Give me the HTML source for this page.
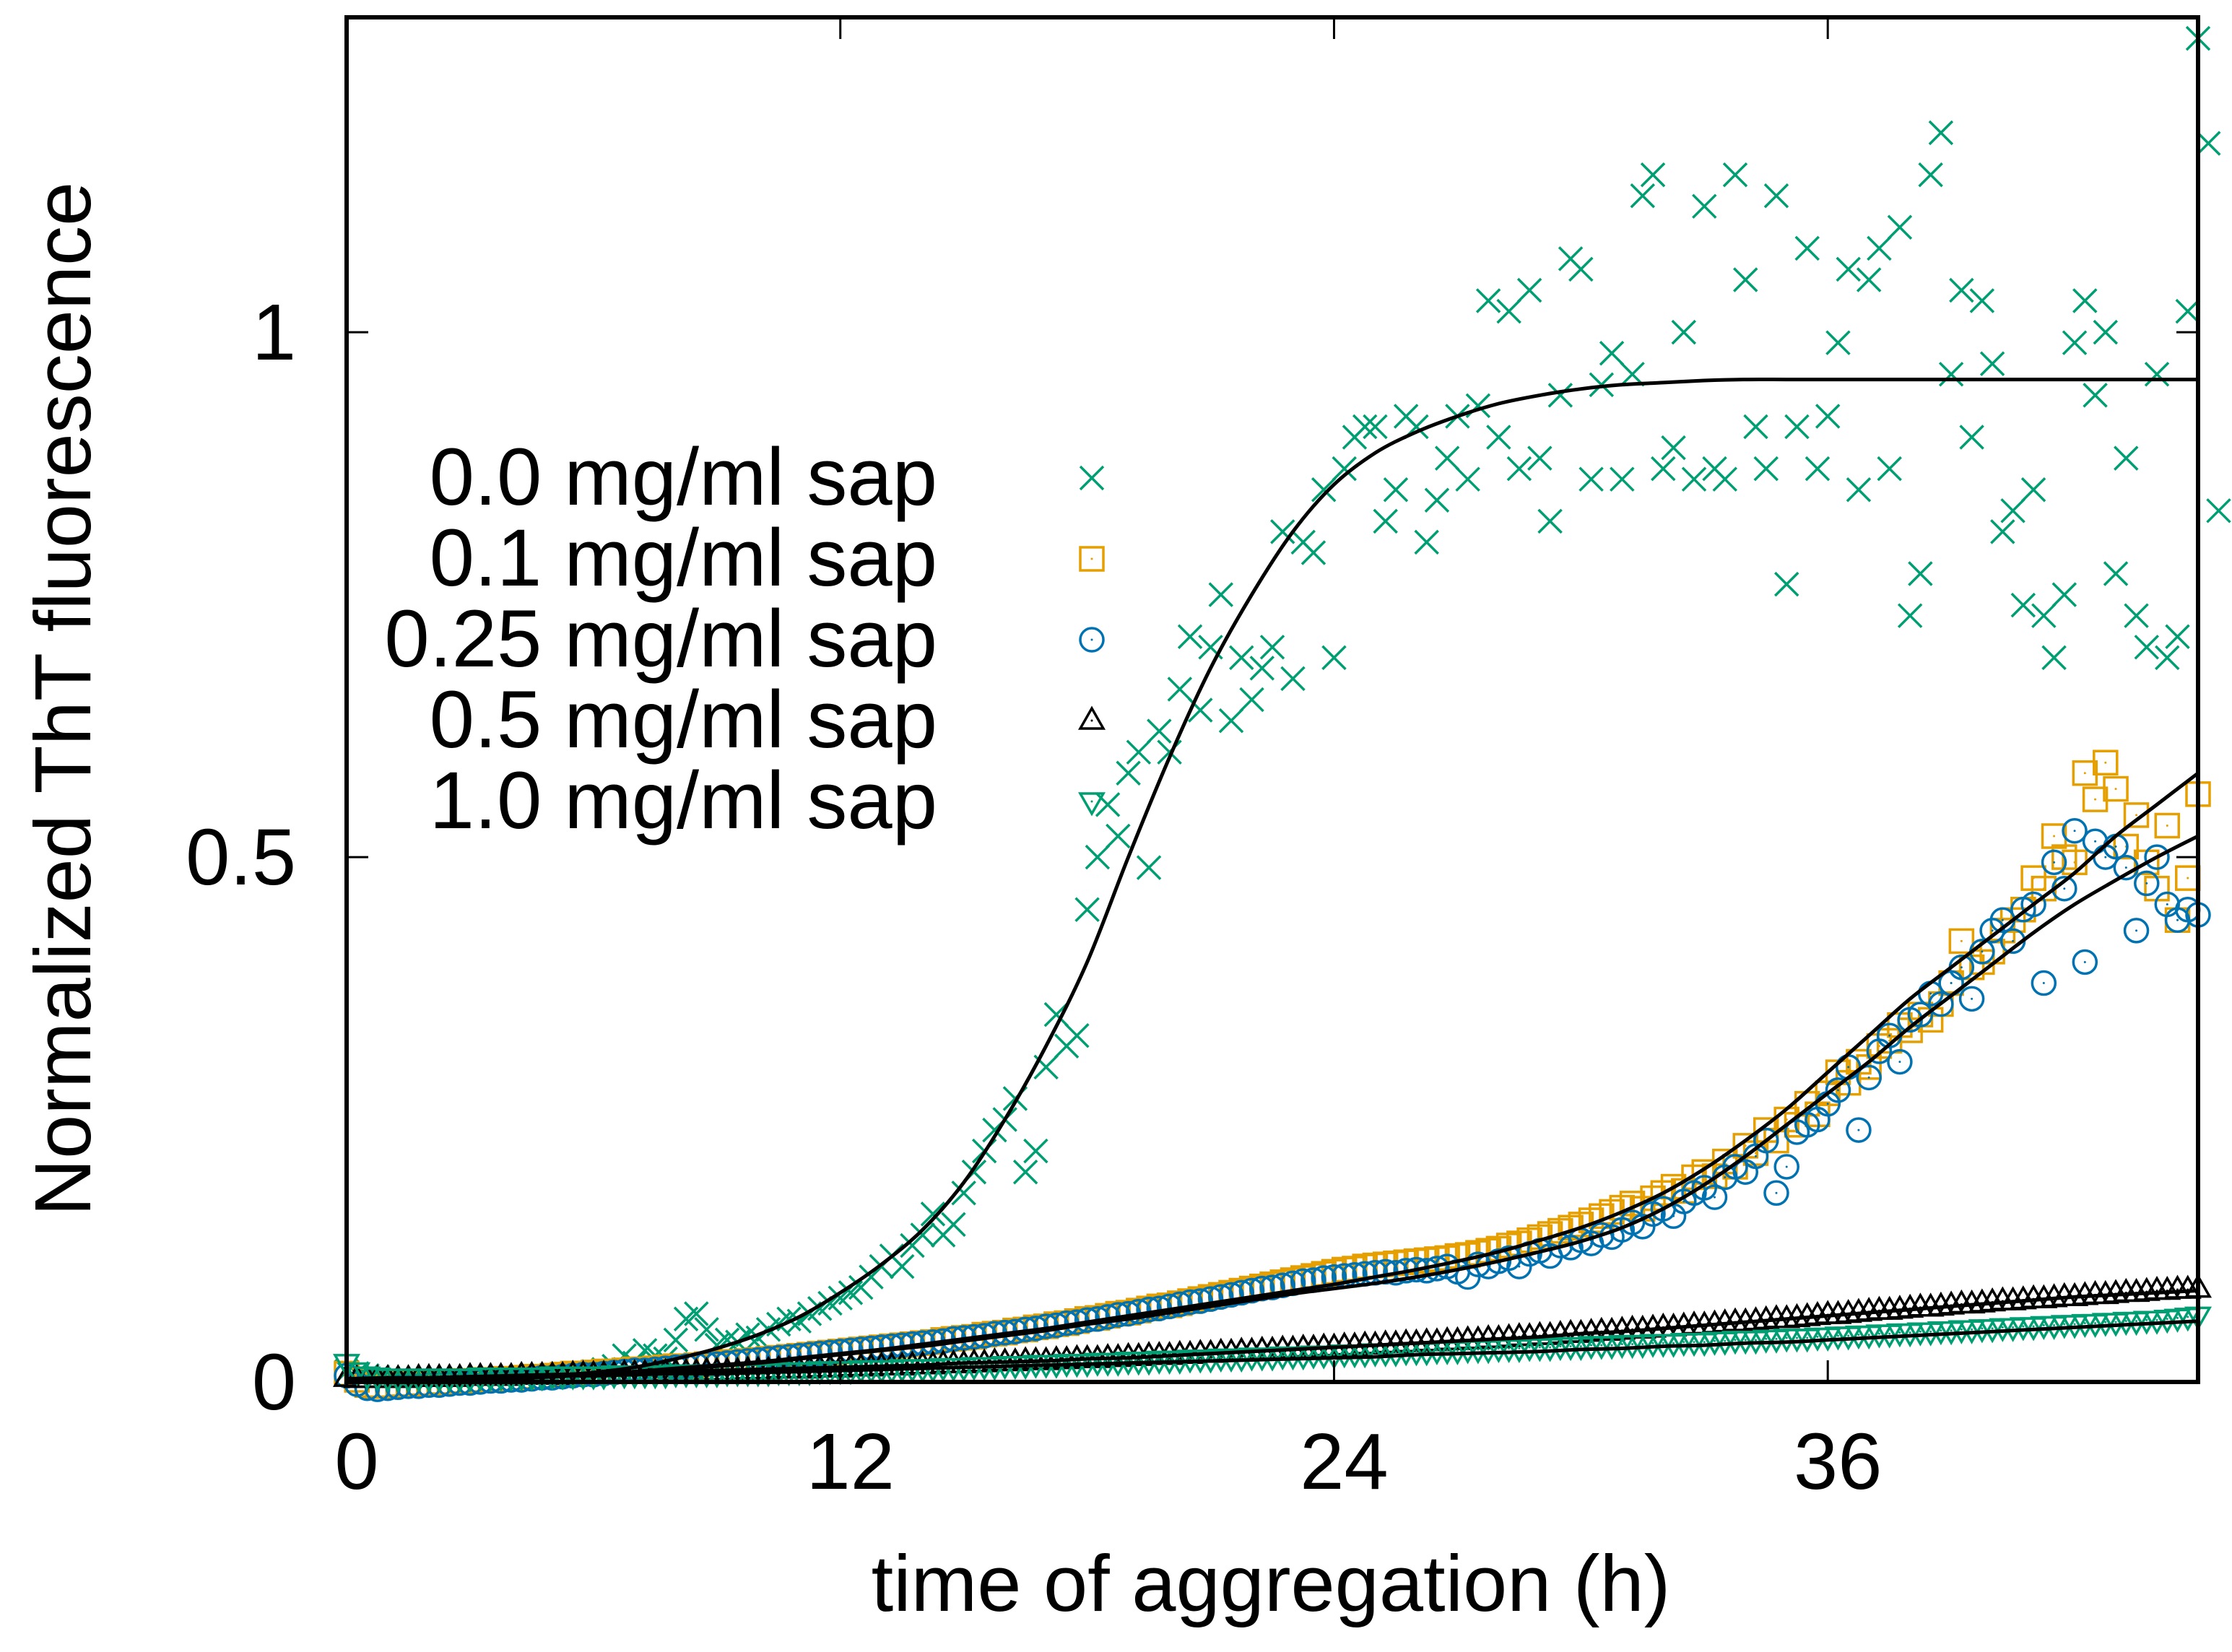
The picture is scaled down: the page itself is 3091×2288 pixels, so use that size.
<!DOCTYPE html>
<html><head><meta charset="utf-8"><style>
html,body{margin:0;padding:0;background:#fff}
svg{display:block}
text{font-family:"Liberation Sans",sans-serif;fill:#000}
</style></head><body>
<svg id="chart" width="3091" height="2288" viewBox="0 0 3091 2288" xmlns="http://www.w3.org/2000/svg">
<rect x="0" y="0" width="3091" height="2288" fill="#fff"/>
<g id="plot"></g>
<g id="axes"></g>
<g id="legend"></g>
<text x="1760" y="2231" font-size="110" text-anchor="middle">time of aggregation (h)</text>
<text transform="translate(125,968) rotate(-90)" font-size="110" text-anchor="middle">Normalized ThT fluorescence</text>
</svg>
<script>
const xTicks = [0, 12, 24, 36];
const yTicks = [0, 0.5, 1];
const yTickLabels = ["0", "0.5", "1"];
const legendLabels = ["0.0 mg/ml sap", "0.1 mg/ml sap", "0.25 mg/ml sap", "0.5 mg/ml sap", "1.0 mg/ml sap"];
const stepGreenX = 0.25;
const stepDense = 0.25;
const green0 = [0.01,0.008,0.006,0.005,0.004,0.004,0.003,0.003,0.003,
0.003,0.003,0.003,0.004,0.004,0.004,0.005,0.005,
0.005,0.006,0.006,0.007,0.008,0.008,0.009,0.01,
0.012,0.015,0.025,0.018,0.03,0.025,0.022,0.04,
0.06,0.065,0.05,0.035,0.04,0.038,0.045,0.042,
0.05,0.055,0.06,0.058,0.065,0.07,0.075,0.08,
0.085,0.09,0.1,0.11,0.12,0.11,0.13,0.14,
0.16,0.14,0.15,0.18,0.2,0.22,0.24,0.25,
0.27,0.2,0.22,0.3,0.35,0.32,0.33,0.45,
0.5,0.55,0.52,0.58,0.6,0.49,0.62,0.6,
0.66,0.71,0.64,0.7,0.75,0.63,0.69,0.65,
0.68,0.7,0.81,0.67,0.8,0.79,0.85,0.69,
0.87,0.9,0.91,0.91,0.82,0.85,0.92,0.91,
0.8,0.84,0.88,0.92,0.86,0.93,1.03,0.9,
1.02,0.87,1.04,0.88,0.82,0.94,1.07,1.06,
0.86,0.95,0.98,0.86,0.96,1.13,1.15,0.87,
0.89,1.0,0.86,1.12,0.87,0.86,1.15,1.05,
0.91,0.87,1.13,0.76,0.91,1.08,0.87,0.92,
0.99,1.06,0.85,1.05,1.08,0.87,1.1,0.73,
0.77,1.15,1.19,0.96,1.04,0.9,1.03,0.97,
0.81,0.83,0.74,0.85,0.73,0.69,0.75,0.99,
1.03,0.94,1.0,0.77,0.88,0.73,0.7,0.96,
0.69,0.71,1.02,1.28,1.18,0.83];
const orange01 = [.008,.002,-.003,-.004, -.003,-.002,-.002,-.001, -.001,.000,.000,.001, .001,.002,.002,.003, .003,.004,.005,.005,
.006,.007,.008,.008, .009,.010,.010,.011, .012,.012,.013,.014, .015,.015,.016,.017, .018,.019,.019,.020,
.021,.022,.023,.024, .025,.026,.027,.028, .029,.030,.031,.032, .033,.034,.035,.036, .037,.038,.040,.041,
.042,.043,.045,.046, .047,.049,.050,.052, .053,.055,.056,.058, .060,.061,.063,.065, .066,.068,.070,.072,
.073,.075,.077,.079, .081,.083,.085,.087, .089,.091,.093,.095, .097,.099,.101,.103, .105,.107,.108,.110,
.111,.112,.113,.114, .115,.116,.117,.118, .120,.121,.123,.125, .127,.130,.132,.135, .138,.141,.144,.147,
.150,.154,.158,.162, .166,.170,.165,.175, .180,.186,.182,.195, .200,.196,.210,.205, .225,.218,.240,.230,
.250,.245,.265,.255, .275,.295,.285,.305, .300,.320,.325,.340, .335,.350,.345,.360, .380,.420,.395,.400,
.410,.430,.440,.450, .480,.470,.520,.500, .495,.580,.555,.590, .565,.510,.540,.495, .470,.530,.440,.480, .560];
const blue025 = [.006,-.002,-.006,-.007, -.006,-.005,-.004,-.004, -.003,-.003,-.002,-.001, -.001,.000,.001,.001, .002,.002,.003,.004,
.004,.005,.006,.007, .007,.008,.009,.010, .011,.011,.012,.013, .014,.015,.016,.017, .017,.018,.019,.020,
.021,.022,.023,.024, .025,.026,.027,.028, .029,.030,.031,.032, .033,.034,.035,.036, .037,.038,.039,.041,
.042,.043,.044,.046, .047,.048,.050,.051, .053,.054,.056,.057, .059,.060,.062,.064, .065,.067,.069,.070,
.072,.074,.076,.077, .079,.081,.083,.085, .087,.089,.090,.092, .094,.096,.097,.099, .100,.101,.102,.103,
.104,.105,.104,.106, .107,.106,.108,.110, .105,.100,.112,.110, .115,.118,.110,.122, .125,.120,.130,.128,
.135,.132,.140,.138, .145,.152,.148,.160, .165,.158,.172,.180, .185,.176,.195,.205, .200,.215,.230,.180,
.205,.238,.245,.250, .265,.278,.300,.240, .290,.315,.330,.305, .345,.350,.370,.360, .380,.395,.365,.410,
.430,.440,.420,.450, .455,.380,.495,.470, .525,.400,.515,.500, .510,.490,.430,.475, .500,.455,.440,.450, .445];
const black05 = [.004,.003,.003,.003, .003,.003,.003,.004, .004,.004,.004,.004, .005,.005,.005,.005, .005,.006,.006,.006,
.006,.006,.007,.007, .007,.007,.007,.008, .008,.008,.008,.009, .009,.009,.009,.010, .010,.010,.010,.011,
.011,.011,.012,.012, .012,.012,.013,.013, .013,.014,.014,.014, .015,.015,.015,.016, .016,.016,.017,.017,
.017,.018,.018,.019, .019,.019,.020,.020, .020,.021,.021,.022, .022,.022,.023,.023, .024,.024,.025,.025,
.025,.026,.026,.027, .027,.028,.028,.029, .029,.030,.030,.031, .031,.032,.032,.033, .033,.034,.034,.035,
.035,.036,.036,.037, .037,.038,.038,.039, .039,.040,.040,.041, .041,.042,.043,.043, .044,.044,.045,.046,
.046,.047,.048,.048, .049,.050,.050,.051, .052,.052,.053,.054, .054,.055,.056,.057, .057,.058,.059,.060,
.060,.061,.062,.063, .064,.064,.065,.066, .067,.068,.068,.069, .070,.071,.071,.072, .073,.074,.074,.075,
.076,.077,.077,.078, .079,.079,.080,.081, .081,.082,.083,.083, .084,.085,.085,.086, .087,.087,.088,.088, .089];
const green10 = [.018,.010,.006,.005, .004,.004,.004,.004, .004,.004,.004,.004, .004,.005,.005,.005, .005,.005,.005,.005,
.006,.006,.006,.006, .006,.006,.007,.007, .007,.007,.007,.007, .008,.008,.008,.008, .008,.009,.009,.009,
.009,.009,.010,.010, .010,.010,.011,.011, .011,.011,.012,.012, .012,.012,.013,.013, .013,.013,.014,.014,
.014,.015,.015,.015, .016,.016,.016,.017, .017,.017,.018,.018, .018,.019,.019,.019, .020,.020,.020,.021,
.021,.021,.022,.022, .022,.023,.023,.023, .024,.024,.024,.025, .025,.025,.026,.026, .026,.027,.027,.027,
.028,.028,.028,.029, .029,.029,.030,.030, .030,.031,.031,.031, .032,.032,.032,.033, .033,.033,.034,.034,
.034,.035,.035,.035, .036,.036,.036,.037, .037,.037,.038,.038, .038,.039,.039,.040, .040,.040,.041,.041,
.042,.042,.042,.043, .043,.044,.044,.045, .045,.046,.046,.047, .047,.048,.048,.049, .049,.050,.050,.051,
.051,.052,.052,.053, .053,.054,.054,.055, .055,.056,.056,.057, .057,.058,.058,.059, .059,.060,.061,.062, .063];
const fitStep = 1;
const fitGreen0 = [0,.001,.002,.003,.004,.006,.009,.014,.022,.032,.045,.062,.085,.112,.145,.19,.25,.32,.4,.5,.595,.68,.75,.81,.855,.885,.905,.92,.932,.94,.946,.95,.952,.954,.955,.955,.955,.955,.955,.955,.955,.955,.955,.955,.955,.955];
const fitOrange01 = [0,.001,.002,.003,.004,.006,.008,.010,.013,.016,.019,.023,.027,.031,.036,.041,.046,.051,.057,.063,.069,.075,.081,.087,.093,.100,.107,.115,.124,.135,.147,.162,.180,.203,.230,.260,.295,.330,.365,.395,.425,.455,.485,.520,.550,.580];
const fitBlue025 = [0,.001,.001,.002,.003,.005,.007,.009,.012,.015,.018,.022,.026,.030,.034,.039,.044,.049,.055,.060,.066,.072,.078,.084,.089,.094,.100,.107,.115,.124,.134,.147,.165,.188,.215,.245,.275,.305,.338,.368,.398,.428,.455,.478,.500,.520];
const fitBlack05 = [.002,.003,.004,.005,.006,.007,.008,.009,.010,.011,.012,.013,.014,.015,.016,.018,.019,.020,.022,.023,.025,.027,.029,.031,.033,.035,.037,.039,.041,.043,.046,.048,.051,.054,.057,.060,.063,.066,.069,.072,.075,.078,.081,.083,.085,.087];
const fitGreen10 = [.003,.004,.004,.005,.005,.006,.006,.007,.008,.008,.009,.010,.011,.012,.013,.014,.015,.016,.017,.018,.019,.020,.021,.022,.023,.024,.026,.027,.028,.029,.031,.032,.034,.035,.037,.038,.040,.042,.044,.046,.048,.050,.052,.054,.056,.058];

const NS = "http://www.w3.org/2000/svg";
const X0 = 480, X1 = 3044, Y0 = 1914, YT = 24;
const XMAX = 45, YMAX = 1.3;
function xs(t){ return X0 + t * (X1 - X0) / XMAX; }
function ys(v){ return Y0 - v * (Y0 - YT) / YMAX; }
function mk(tag, attrs, parent){
  const e = document.createElementNS(NS, tag);
  for (const k in attrs) e.setAttribute(k, attrs[k]);
  parent.appendChild(e);
  return e;
}
const GREEN = "#009e73", ORANGE = "#e69f00", BLUE = "#0072b2", BLACK = "#000";
function marker(kind, cx, cy, color, parent){
  const g = mk("g", {stroke: color, "stroke-width": 3.5, fill: "none"}, parent);
  if (kind === "x") {
    const s = 16;
    mk("path", {d: `M${cx-s},${cy-s}L${cx+s},${cy+s}M${cx-s},${cy+s}L${cx+s},${cy-s}`}, g);
  } else if (kind === "sq") {
    const s = 16;
    mk("rect", {x: cx-s, y: cy-s, width: 2*s, height: 2*s}, g);
    mk("circle", {cx: cx, cy: cy, r: 1.5, fill: color, stroke: "none"}, g);
  } else if (kind === "ci") {
    mk("circle", {cx: cx, cy: cy, r: 16}, g);
    mk("circle", {cx: cx, cy: cy, r: 1.5, fill: color, stroke: "none"}, g);
  } else if (kind === "tu") {
    mk("path", {d: `M${cx},${cy-17}L${cx+16},${cy+11}L${cx-16},${cy+11}Z`}, g);
    mk("circle", {cx: cx, cy: cy, r: 1.5, fill: color, stroke: "none"}, g);
  } else {
    mk("path", {d: `M${cx},${cy+17}L${cx+16},${cy-11}L${cx-16},${cy-11}Z`}, g);
    mk("circle", {cx: cx, cy: cy, r: 1.5, fill: color, stroke: "none"}, g);
  }
  return g;
}
const plot = document.getElementById("plot");
const series = [
  {vals: green0, step: stepGreenX, kind: "x", color: GREEN, name: "series-0-0-mg"},
  {vals: orange01, step: stepDense, kind: "sq", color: ORANGE, name: "series-0-1-mg"},
  {vals: blue025, step: stepDense, kind: "ci", color: BLUE, name: "series-0-25-mg"},
  {vals: black05, step: stepDense, kind: "tu", color: BLACK, name: "series-0-5-mg"},
  {vals: green10, step: stepDense, kind: "td", color: GREEN, name: "series-1-0-mg"}
];
series.forEach(s => {
  const g = mk("g", {}, plot);
  
  
  s.vals.forEach((v, i) => {
    const m = marker(s.kind, xs(i * s.step), ys(v), s.color, g);
    
    
  });
});
function smoothPath(f){
  const p = f.map((v, i) => [xs(i * fitStep), ys(v)]);
  let d = "M" + p[0][0].toFixed(1) + "," + p[0][1].toFixed(1);
  for (let i = 0; i < p.length - 1; i++) {
    const p0 = p[Math.max(0, i-1)], p1 = p[i], p2 = p[i+1], p3 = p[Math.min(p.length-1, i+2)];
    const c1x = p1[0] + (p2[0]-p0[0])/6, c1y = p1[1] + (p2[1]-p0[1])/6;
    const c2x = p2[0] - (p3[0]-p1[0])/6, c2y = p2[1] - (p3[1]-p1[1])/6;
    d += `C${c1x.toFixed(1)},${c1y.toFixed(1)} ${c2x.toFixed(1)},${c2y.toFixed(1)} ${p2[0].toFixed(1)},${p2[1].toFixed(1)}`;
  }
  return d;
}
[fitGreen0, fitOrange01, fitBlue025, fitBlack05, fitGreen10].forEach((f, j) => {
  const p = mk("path", {d: smoothPath(f), stroke: "#000", "stroke-width": 5, fill: "none", "stroke-linejoin": "round"}, plot);
  
  
});
const axes = document.getElementById("axes");
const frame = mk("rect", {x: X0, y: YT, width: X1 - X0, height: Y0 - YT, fill: "none", stroke: "#000", "stroke-width": 6}, axes);


xTicks.forEach(t => {
  const x = xs(t);
  const tk = mk("path", {d: `M${x},${Y0}L${x},${Y0-30}M${x},${YT}L${x},${YT+30}`, stroke: "#000", "stroke-width": 3}, axes);
  
  
  const lb = mk("text", {x: x + 14, y: 2062, "font-size": 110, "text-anchor": "middle"}, axes);
  lb.textContent = String(t);
  
  
});
yTicks.forEach((v, i) => {
  const y = ys(v);
  const tk = mk("path", {d: `M${X0},${y}L${X0+30},${y}M${X1},${y}L${X1-30},${y}`, stroke: "#000", "stroke-width": 3}, axes);
  
  
  const lb = mk("text", {x: 410, y: y + 38, "font-size": 110, "text-anchor": "end"}, axes);
  lb.textContent = yTickLabels[i];
  
  
});
const legend = document.getElementById("legend");
const kinds = ["x", "sq", "ci", "tu", "td"];
const colors = [GREEN, ORANGE, BLUE, BLACK, GREEN];
legendLabels.forEach((lab, i) => {
  const cy = 662 + i * 112;
  const t = mk("text", {x: 1298, y: cy + 37, "font-size": 112, "text-anchor": "end"}, legend);
  t.textContent = lab;
  
  
  const m = marker(kinds[i], 1512, cy, colors[i], legend);
  
  
});
</script>
</body></html>
